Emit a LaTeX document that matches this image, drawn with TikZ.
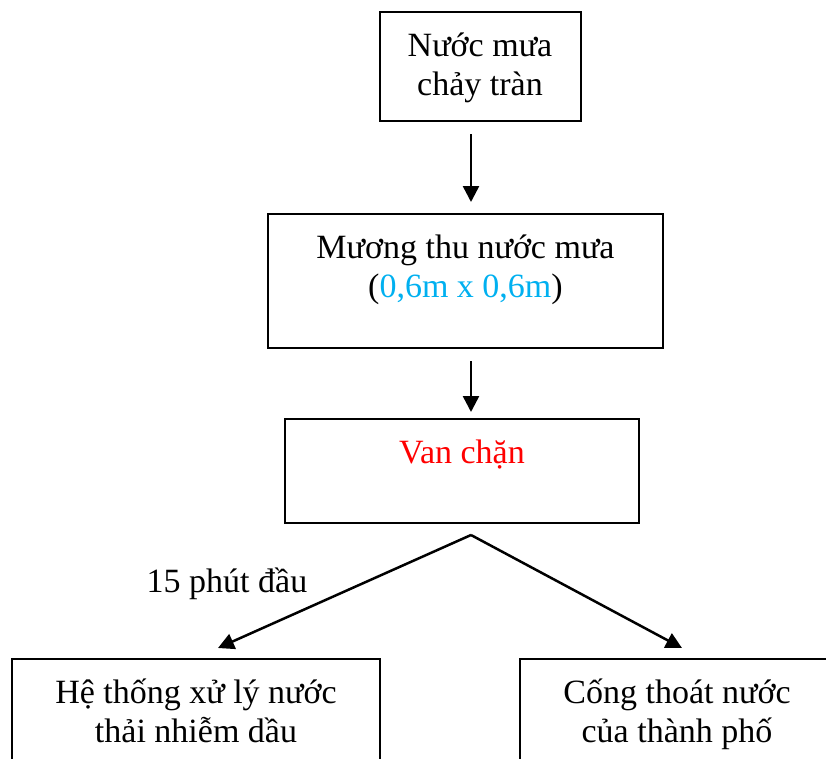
\documentclass[tikz,border=0pt]{standalone}
\usepackage{fontspec}
\setmainfont{Liberation Serif}
\usetikzlibrary{arrows.meta}
\definecolor{sizeblue}{RGB}{0,176,240}
\definecolor{valvered}{RGB}{255,0,0}
\begin{document}
\begin{tikzpicture}[x=1pt,y=-1pt,
  box/.style={draw, line width=2pt, align=center, anchor=north,
    inner xsep=0pt, inner ysep=0pt,
    font=\fontsize{34}{39.5}\selectfont},
  oneline/.style={text height=44pt},
  twolines/.style={text height=83.5pt},
  flow/.style={line width=2.5pt, -{Triangle[length=16pt,width=16pt]}},
  note/.style={font=\fontsize{34}{39.5}\selectfont, inner sep=0pt, anchor=base}]
\useasboundingbox (0,0) rectangle (826,758);
\clip (0,0) rectangle (826,758);

% process boxes (text height/depth measured from the last baseline)
\node[box, twolines, minimum width=201pt, text depth=25.5pt] (rain) at (480,11)
  {Nước mưa\\chảy tràn};
\node[box, twolines, minimum width=395pt, text depth=50.5pt] (channel) at (465.5,213)
  {Mương thu nước mưa\\(\textcolor{sizeblue}{0,6m x 0,6m})};
\node[box, oneline, minimum width=354pt, text depth=60pt] (valve) at (462,418)
  {\textcolor{valvered}{Van chặn}};
\node[box, twolines, minimum width=368pt, text depth=110pt] (treat) at (196,658)
  {Hệ thống xử lý nước\\thải nhiễm dầu};
\node[box, twolines, minimum width=314pt, text depth=110pt] (drain) at (677,658)
  {Cống thoát nước\\của thành phố};

% branching point and arrow ends
\coordinate (split) at (471,535);
\coordinate (tipL) at (218,648);
\coordinate (tipR) at (682,648);

% connectors
\draw[flow, shorten <=12pt, shorten >=11pt] (rain.south -| split) -- (channel.north -| split);
\draw[flow, shorten <=12pt, shorten >=6pt] (channel.south -| split) -- (valve.north -| split);
\draw[flow] (split) -- (tipL);
\draw[flow] (split) -- (tipR);

\node[note] (first) at (227,592) {15 phút đầu};
\end{tikzpicture}
\end{document}
